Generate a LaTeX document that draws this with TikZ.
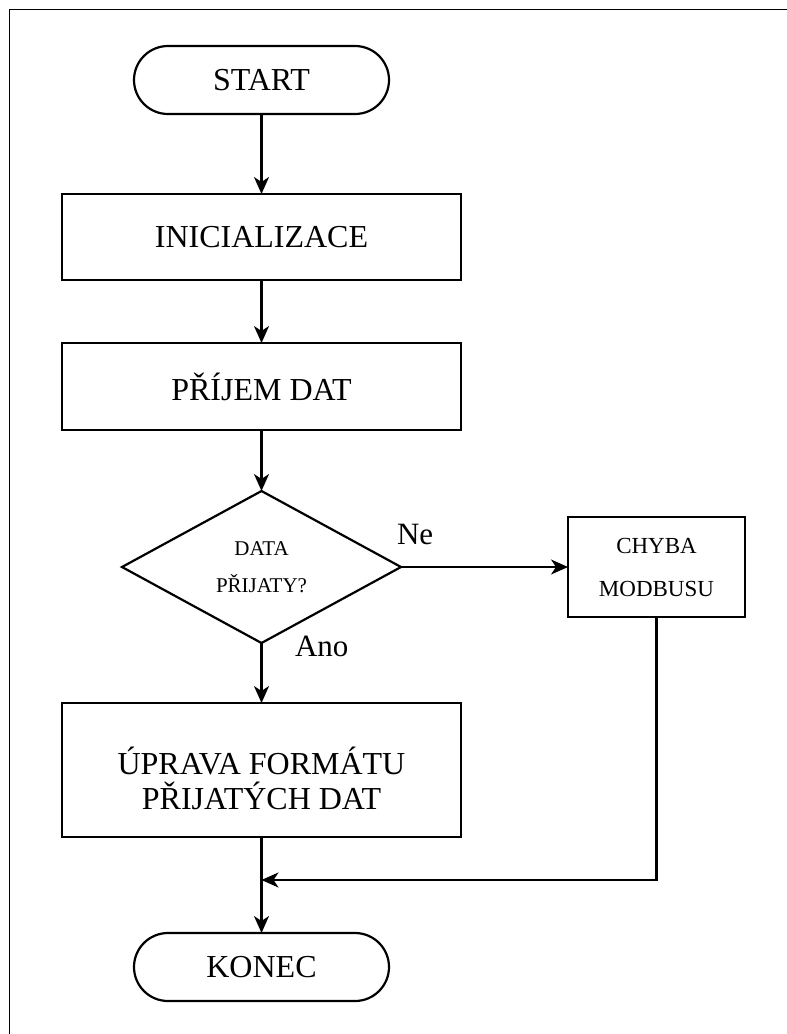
\documentclass[tikz,border=0pt]{standalone}
\usepackage{fontspec}
\setmainfont{Liberation Serif}
\usetikzlibrary{shapes.geometric,arrows.meta}
\begin{document}
\begin{tikzpicture}[x=1pt,y=-1pt,
  every node/.style={inner sep=0pt, outer sep=0pt},
  flow/.style={line width=2.2pt, -{Stealth[length=17pt,width=15pt,inset=5pt]}},
  procbox/.style={draw, line width=2.2pt, rectangle, minimum width=399pt,
    font=\fontsize{32}{38}\selectfont},
  term/.style={draw, line width=2.2pt, rectangle, rounded corners=34pt,
    minimum width=255pt, minimum height=68pt, font=\fontsize{32}{38}\selectfont},
  decision/.style={draw, line width=2.2pt, diamond, minimum width=279pt,
    minimum height=152pt, align=center, font=\fontsize{21}{37}\selectfont},
  branch/.style={font=\fontsize{31}{36}\selectfont, anchor=base west}
]
\useasboundingbox (0,0) rectangle (787,1034);

% outer frame (left and top edges)
\draw[line width=1.5pt] (9.5,1034) -- (9.5,9.5) -- (787,9.5);

% flow steps
\node[term] (start) at (261.5,80) {START};
\node[procbox, minimum height=86pt] (init) at (261.5,237) {INICIALIZACE};
\node[procbox, minimum height=87pt] (recv) at (261.5,386.5) {PŘÍJEM DAT};
\node[decision] (check) at (261.5,567) {DATA\\PŘIJATY?};
\node[procbox, minimum width=177pt, minimum height=100pt, align=center,
  font=\fontsize{23}{43}\selectfont] (err) at (656.5,567) {CHYBA\\MODBUSU};
\node[procbox, minimum height=134pt, align=center,
  font=\fontsize{32}{35}\selectfont] (fmt) at (261.5,770)
  {\rule{0pt}{45pt}ÚPRAVA FORMÁTU\\PŘIJATÝCH DAT};
\node[term] (end) at (261.5,967) {KONEC};
\coordinate (join) at (fmt.south |- 0,880);

% branch labels
\node[branch] (ne) at (397,544) {Ne};
\node[branch] (ano) at (295,656) {Ano};

% connectors
\draw[flow] (start) -- (init);
\draw[flow] (init) -- (recv);
\draw[flow] (recv) -- (check);
\draw[flow] (check) -- (err);
\draw[flow] (check) -- (fmt);
\draw[flow] (fmt) -- (end);
\draw[flow] (err.south) |- (join);
\end{tikzpicture}
\end{document}
